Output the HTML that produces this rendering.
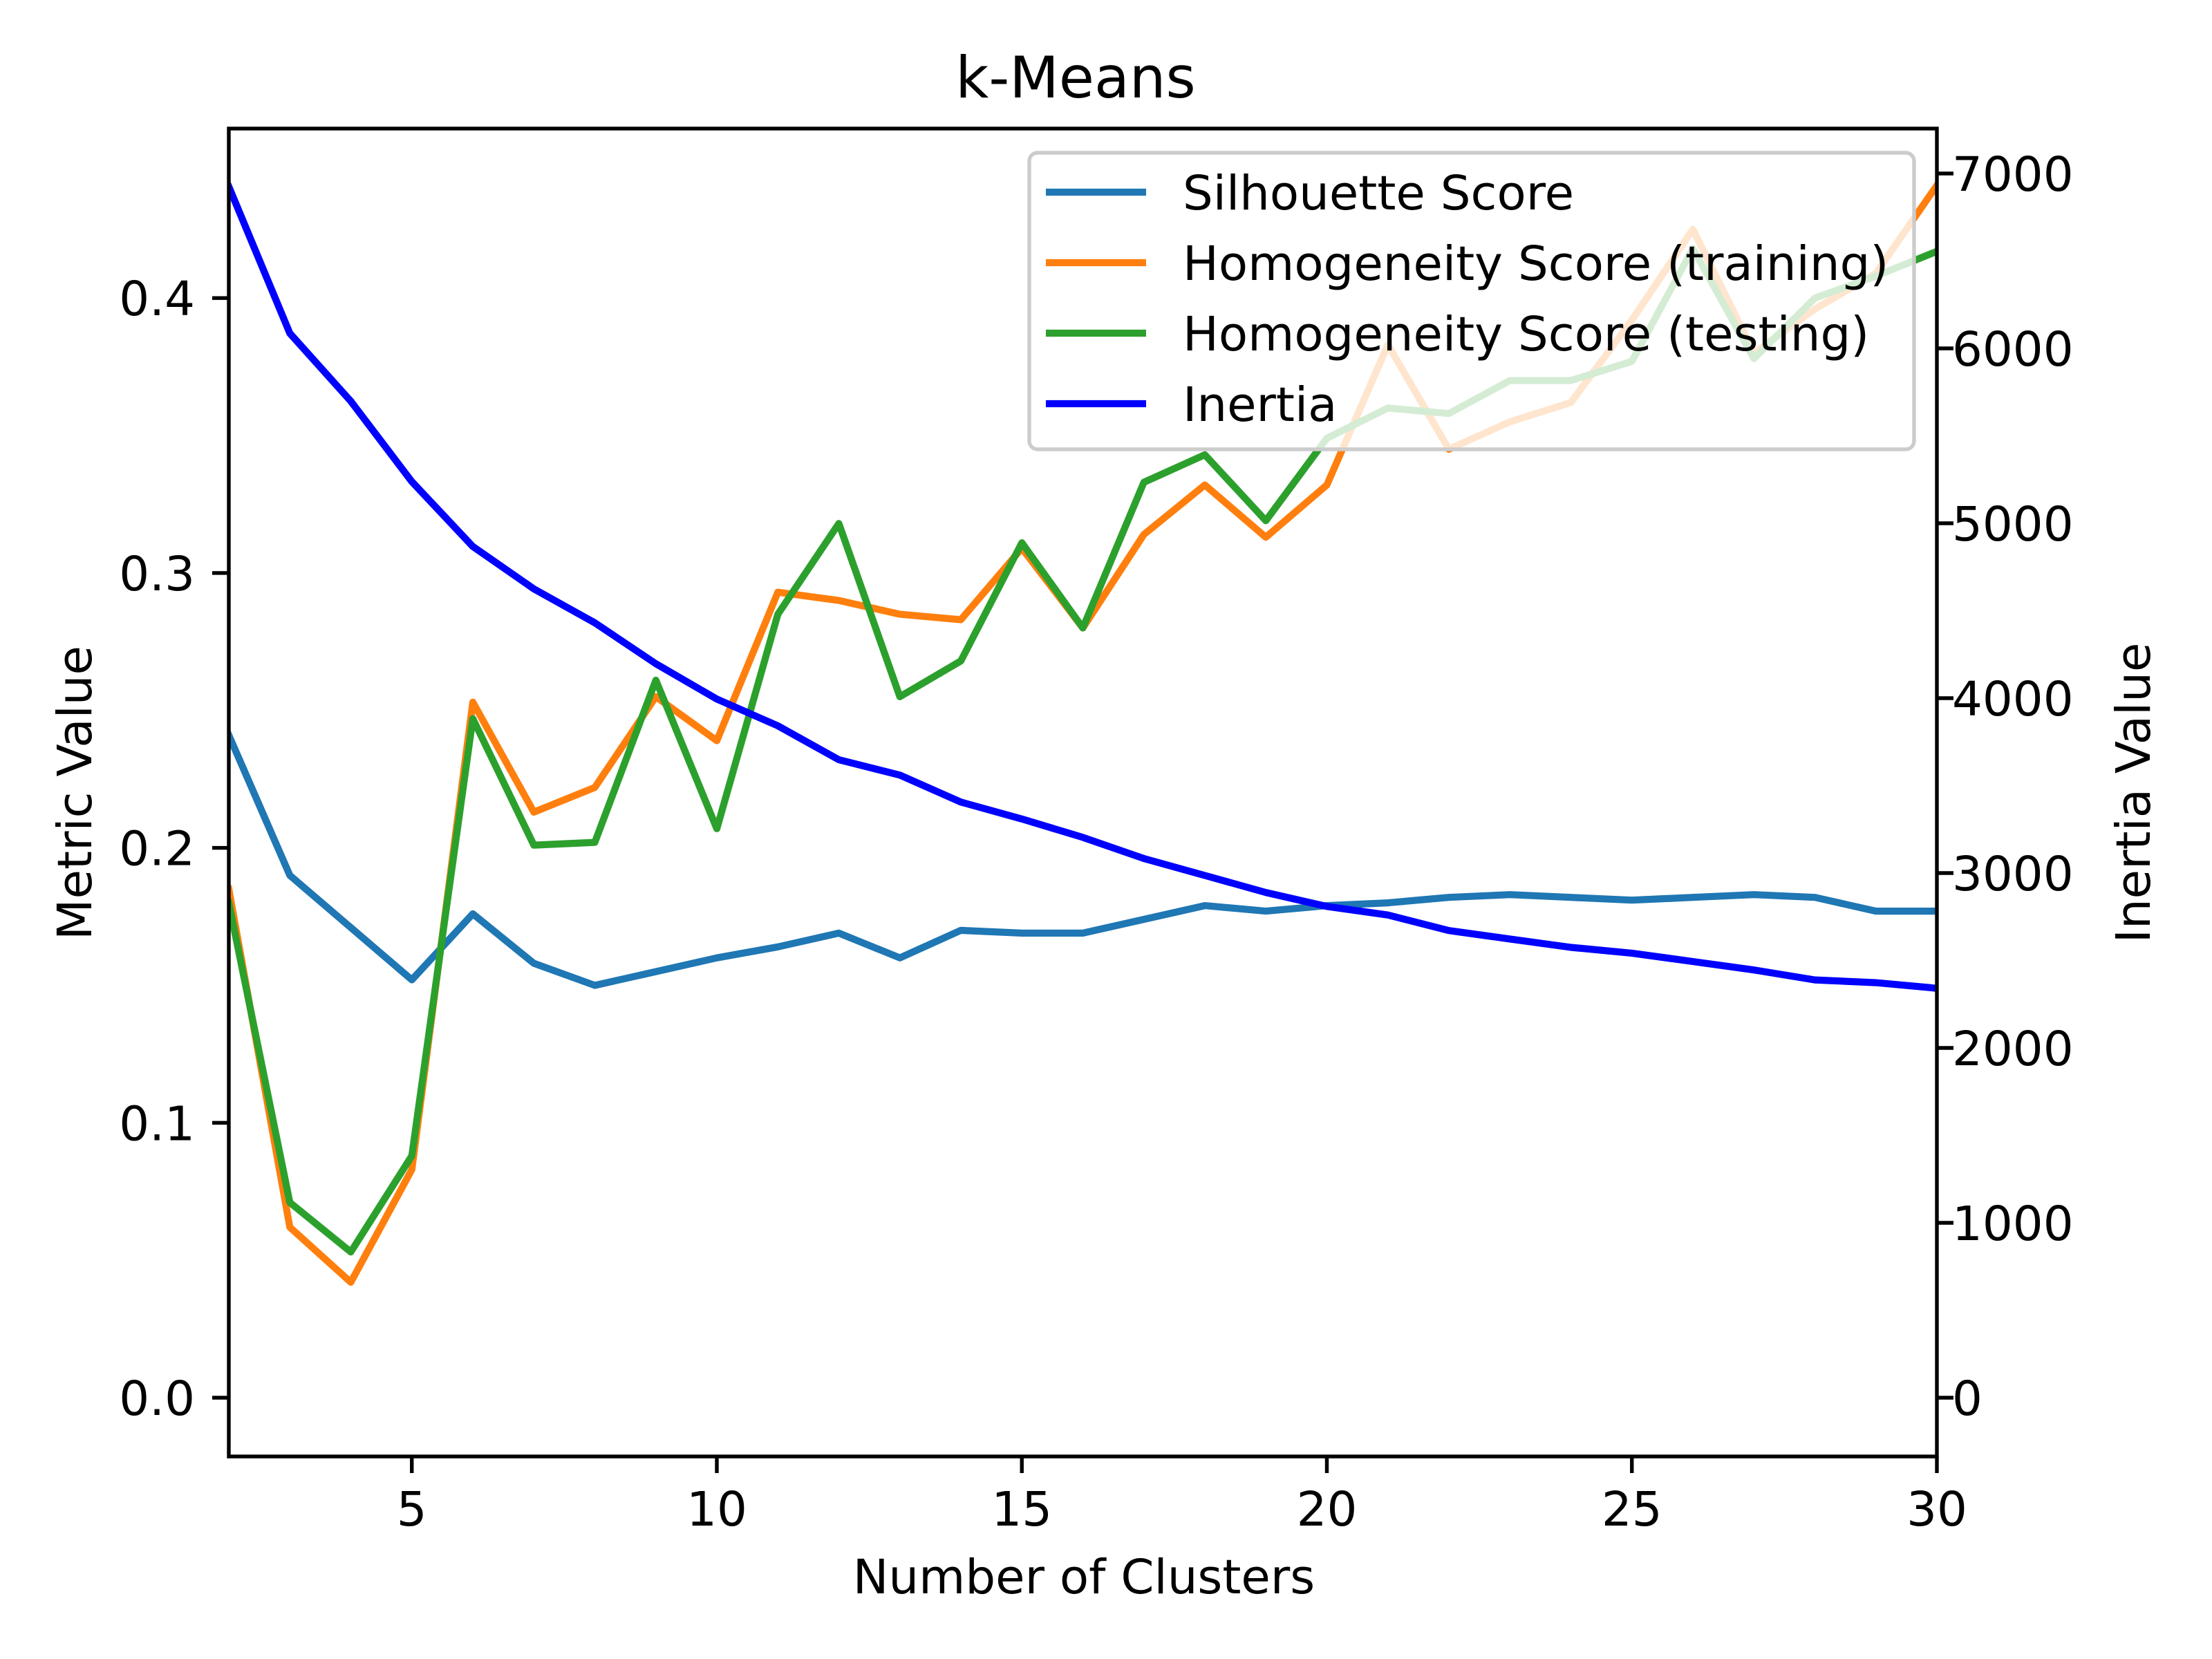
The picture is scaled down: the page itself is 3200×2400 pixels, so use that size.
<!DOCTYPE html>
<html><head><meta charset="utf-8"><style>body{margin:0;background:#fff}svg{display:block}text{font-family:"DejaVu Sans","Liberation Sans",sans-serif;fill:#000}</style></head>
<body>
<svg id="chart" width="3200" height="2400" viewBox="0 0 3200 2400" xmlns="http://www.w3.org/2000/svg">
<rect width="3200" height="2400" fill="#fff"/>
<g id="plot"></g>
</svg>
<script>
const clusters=[2,3,4,5,6,7,8,9,10,11,12,13,14,15,16,17,18,19,20,21,22,23,24,25,26,27,28,29,30];
const silhouette=[0.241,0.190,0.171,0.152,0.176,0.158,0.150,0.155,0.160,0.164,0.169,0.160,0.170,0.169,0.169,0.174,0.179,0.177,0.179,0.180,0.182,0.183,0.182,0.181,0.182,0.183,0.182,0.177,0.177];
const homTrain=[0.185,0.062,0.042,0.083,0.253,0.213,0.222,0.255,0.239,0.293,0.290,0.285,0.283,0.309,0.280,0.314,0.332,0.313,0.332,0.383,0.345,0.355,0.362,0.392,0.425,0.380,0.396,0.409,0.441];
const homTest=[0.180,0.071,0.053,0.088,0.247,0.201,0.202,0.261,0.207,0.285,0.318,0.255,0.268,0.311,0.280,0.333,0.343,0.319,0.349,0.360,0.358,0.370,0.370,0.377,0.418,0.378,0.400,0.408,0.417];
const inertia=[6925,6086,5698,5238,4867,4625,4431,4197,3995,3842,3648,3560,3406,3309,3204,3083,2986,2889,2809,2760,2671,2623,2575,2542,2494,2446,2389,2373,2341];
const xTicks=[5,10,15,20,25,30];
const yTicks=[0.0,0.1,0.2,0.3,0.4];
const y2Ticks=[0,1000,2000,3000,4000,5000,6000,7000];
const NS='http://www.w3.org/2000/svg';
const L=331,R=2802,T=186,B=2107;
const X=v=>L+(v-2)/28*(R-L);
const Y=v=>2022-v*3977;
const Y2=v=>2022-v*0.253;
const g=document.getElementById('plot');
function mk(t,a,p){const e=document.createElementNS(NS,t);for(const k in a)e.setAttribute(k,a[k]);(p||g).appendChild(e);return e;}
const clip=mk('clipPath',{id:'cp'});mk('rect',{x:L,y:T,width:R-L,height:B-T},clip);
const lg=mk('g',{'clip-path':'url(#cp)'});
function line2(vals,fy,color,name){
  const d=vals.map((v,i)=>(i?'L':'M')+X(clusters[i]).toFixed(1)+' '+fy(v).toFixed(1)).join(' ');
  const p=mk('path',{d:d,fill:'none',stroke:color,'stroke-width':10.2,'stroke-linejoin':'round','stroke-linecap':'square'},lg);
  
  
}
line2(silhouette,Y,'#1f77b4','silhouette-line');
line2(homTrain,Y,'#ff7f0e','homogeneity-training-line');
line2(homTest,Y,'#2ca02c','homogeneity-testing-line');
line2(inertia,Y2,'#0000ff','inertia-line');
xTicks.forEach(v=>{mk('line',{x1:X(v),x2:X(v),y1:B,y2:B+24,stroke:'#000','stroke-width':5.4});
  const t=mk('text',{x:X(v),y:2207,'font-size':69,'text-anchor':'middle'});t.textContent=v;
  });
yTicks.forEach(v=>{mk('line',{x1:L-24,x2:L,y1:Y(v),y2:Y(v),stroke:'#000','stroke-width':5.4});
  const t=mk('text',{x:282,y:Y(v)+25,'font-size':69,'text-anchor':'end'});t.textContent=v.toFixed(1);
  });
y2Ticks.forEach(v=>{mk('line',{x1:R,x2:R+24,y1:Y2(v),y2:Y2(v),stroke:'#000','stroke-width':5.4});
  const t=mk('text',{x:2824,y:Y2(v)+25,'font-size':69,'text-anchor':'start'});t.textContent=v;
  });
const fr=mk('rect',{x:L,y:T,width:R-L,height:B-T,fill:'none',stroke:'#000','stroke-width':5.4});

let t=mk('text',{x:1556,y:141,'font-size':83,'text-anchor':'middle'});t.textContent='k-Means';

t=mk('text',{x:1568,y:2305,'font-size':69,'text-anchor':'middle'});t.textContent='Number of Clusters';

t=mk('text',{x:0,y:0,'font-size':69,'text-anchor':'middle',transform:'translate(132,1147) rotate(-90)'});t.textContent='Metric Value';

t=mk('text',{x:0,y:0,'font-size':69,'text-anchor':'middle',transform:'translate(3110,1147) rotate(-90)'});t.textContent='Inertia Value';

const leg=mk('g',{});

mk('rect',{x:1489,y:221,width:1280,height:429,rx:12,fill:'rgba(255,255,255,0.8)',stroke:'#cccccc','stroke-width':5.4},leg);
const legNames=['Silhouette Score','Homogeneity Score (training)','Homogeneity Score (testing)','Inertia'];
const legColors=['#1f77b4','#ff7f0e','#2ca02c','#0000ff'];
legNames.forEach((n,i)=>{const yy=278+i*102;
  const en=mk('g',{},leg);
  
  mk('line',{x1:1513,x2:1658,y1:yy,y2:yy,stroke:legColors[i],'stroke-width':10.2},en);
  const tt=mk('text',{x:1711,y:yy+25,'font-size':69},en);tt.textContent=n;});
</script>
</body></html>
